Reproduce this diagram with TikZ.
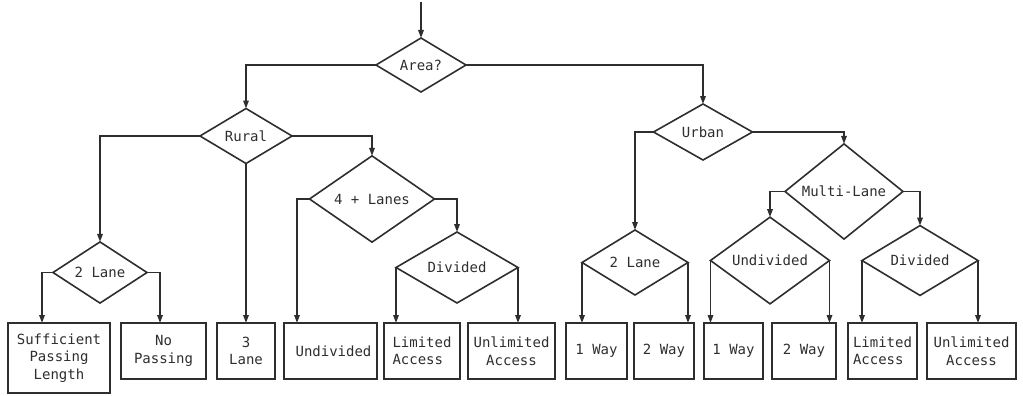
\documentclass[tikz,border=0pt]{standalone}
\usepackage{fontspec}
\setmonofont{DejaVu Sans Mono}
\usetikzlibrary{shapes.geometric,arrows.meta}
\definecolor{ink}{HTML}{2E2E2E}
\begin{document}
\begin{tikzpicture}[x=1pt,y=-1pt,
  every node/.style={font=\ttfamily\fontsize{14}{17.5}\selectfont, text=ink},
  decision/.style={draw=ink, line width=1.6pt, shape=diamond, inner sep=0pt, outer sep=0pt},
  leaf/.style={draw=ink, line width=1.6pt, rectangle, inner sep=1pt, outer sep=0pt,
               anchor=north west, align=center, minimum height=56pt},
  arr/.style={draw=ink, line width=1.6pt, -{Triangle[length=8pt,width=5.5pt]}},
  ln/.style={draw=ink, line width=1.6pt}]
\useasboundingbox (0,0) rectangle (1023,396);

% decisions
\node[decision, minimum width=90pt,  minimum height=54pt] (area)  at (421,65)    {Area?};
\node[decision, minimum width=92pt,  minimum height=55pt] (rural) at (246,136)   {Rural};
\node[decision, minimum width=94pt,  minimum height=55pt] (rtwo)  at (100,272.5) {2 Lane};
\node[decision, minimum width=125pt, minimum height=72pt] (four)  at (372,199)   {4 + Lanes};
\node[decision, minimum width=122pt, minimum height=71pt] (rdiv)  at (457,267.5) {Divided};
\node[decision, minimum width=99pt,  minimum height=56pt] (urban) at (703,132)   {Urban};
\node[decision, minimum width=118pt, minimum height=73pt] (multi) at (844,191.5) {Multi-Lane};
\node[decision, minimum width=106pt, minimum height=65pt] (utwo)  at (635,262.5) {2 Lane};
\node[decision, minimum width=119pt, minimum height=67pt] (uund)  at (770,260.5) {Undivided};
\node[decision, minimum width=116pt, minimum height=67pt] (udiv)  at (920,260.5) {Divided};

% outcomes
\node[leaf, minimum width=102pt, minimum height=70pt] (suff) at (8,323) {Sufficient\\Passing\\Length};
\node[leaf, minimum width=85pt] (nopass) at (121,323) {No\\Passing};
\node[leaf, minimum width=58pt] (lane3)  at (217,323) {3\\Lane};
\node[leaf, minimum width=93pt] (rund)   at (284,323) {\hspace*{6pt}Undivided};
\node[leaf, minimum width=76pt, align=left] (rlim) at (384,323) {Limited\\Access};
\node[leaf, minimum width=87pt] (runl)   at (468,323) {Unlimited\\Access};
\node[leaf, minimum width=61pt] (uone)   at (566,323) {1 Way};
\node[leaf, minimum width=60pt] (utw)    at (634,323) {2 Way};
\node[leaf, minimum width=59pt] (uuone)  at (704,323) {1 Way};
\node[leaf, minimum width=64pt] (uutw)   at (772,323) {2 Way};
\node[leaf, minimum width=69pt, align=left] (ulim) at (848,323) {Limited\\Access};
\node[leaf, minimum width=89pt] (uunl)   at (927,323) {Unlimited\\Access};

% entry
\coordinate (start) at (421,2);
\draw[arr] (start) -- (area.north);

% area split
\draw[arr] (area.west) -| (rural.north);
\draw[arr] (area.east) -| (urban.north);

% rural branch
\draw[arr] (rural.west) -| (rtwo.north);
\draw[arr] (rural.south) -- (lane3.north);
\draw[arr] (rural.east) -| (four.north);
\draw[arr] (rtwo.west) -| ([xshift=34pt]suff.north west);
\draw[arr] (rtwo.east) -| ([xshift=39pt]nopass.north west);
\draw[arr] (four.west) -| ([xshift=13pt]rund.north west);
\draw[arr] (four.east) -| (rdiv.north);
\draw[arr] (rdiv.west) -- (rdiv.west |- rlim.north);
\draw[arr] (rdiv.east) -- (rdiv.east |- runl.north);

% urban branch
\draw[arr] (urban.west) -| (utwo.north);
\draw[arr] (urban.east) -| (multi.north);
\draw[arr] (multi.west) -| (uund.north);
\draw[arr] (multi.east) -| (udiv.north);
\draw[arr] (utwo.west) -- (utwo.west |- uone.north);
\draw[arr] (utwo.east) -- (utwo.east |- utw.north);
\draw[arr] (uund.west) -- (uund.west |- uuone.north);
\draw[arr] (uund.east) -- (uund.east |- uutw.north);
\draw[arr] (udiv.west) -- (udiv.west |- ulim.north);
\draw[arr] (udiv.east) -- (udiv.east |- uunl.north);
\end{tikzpicture}
\end{document}
